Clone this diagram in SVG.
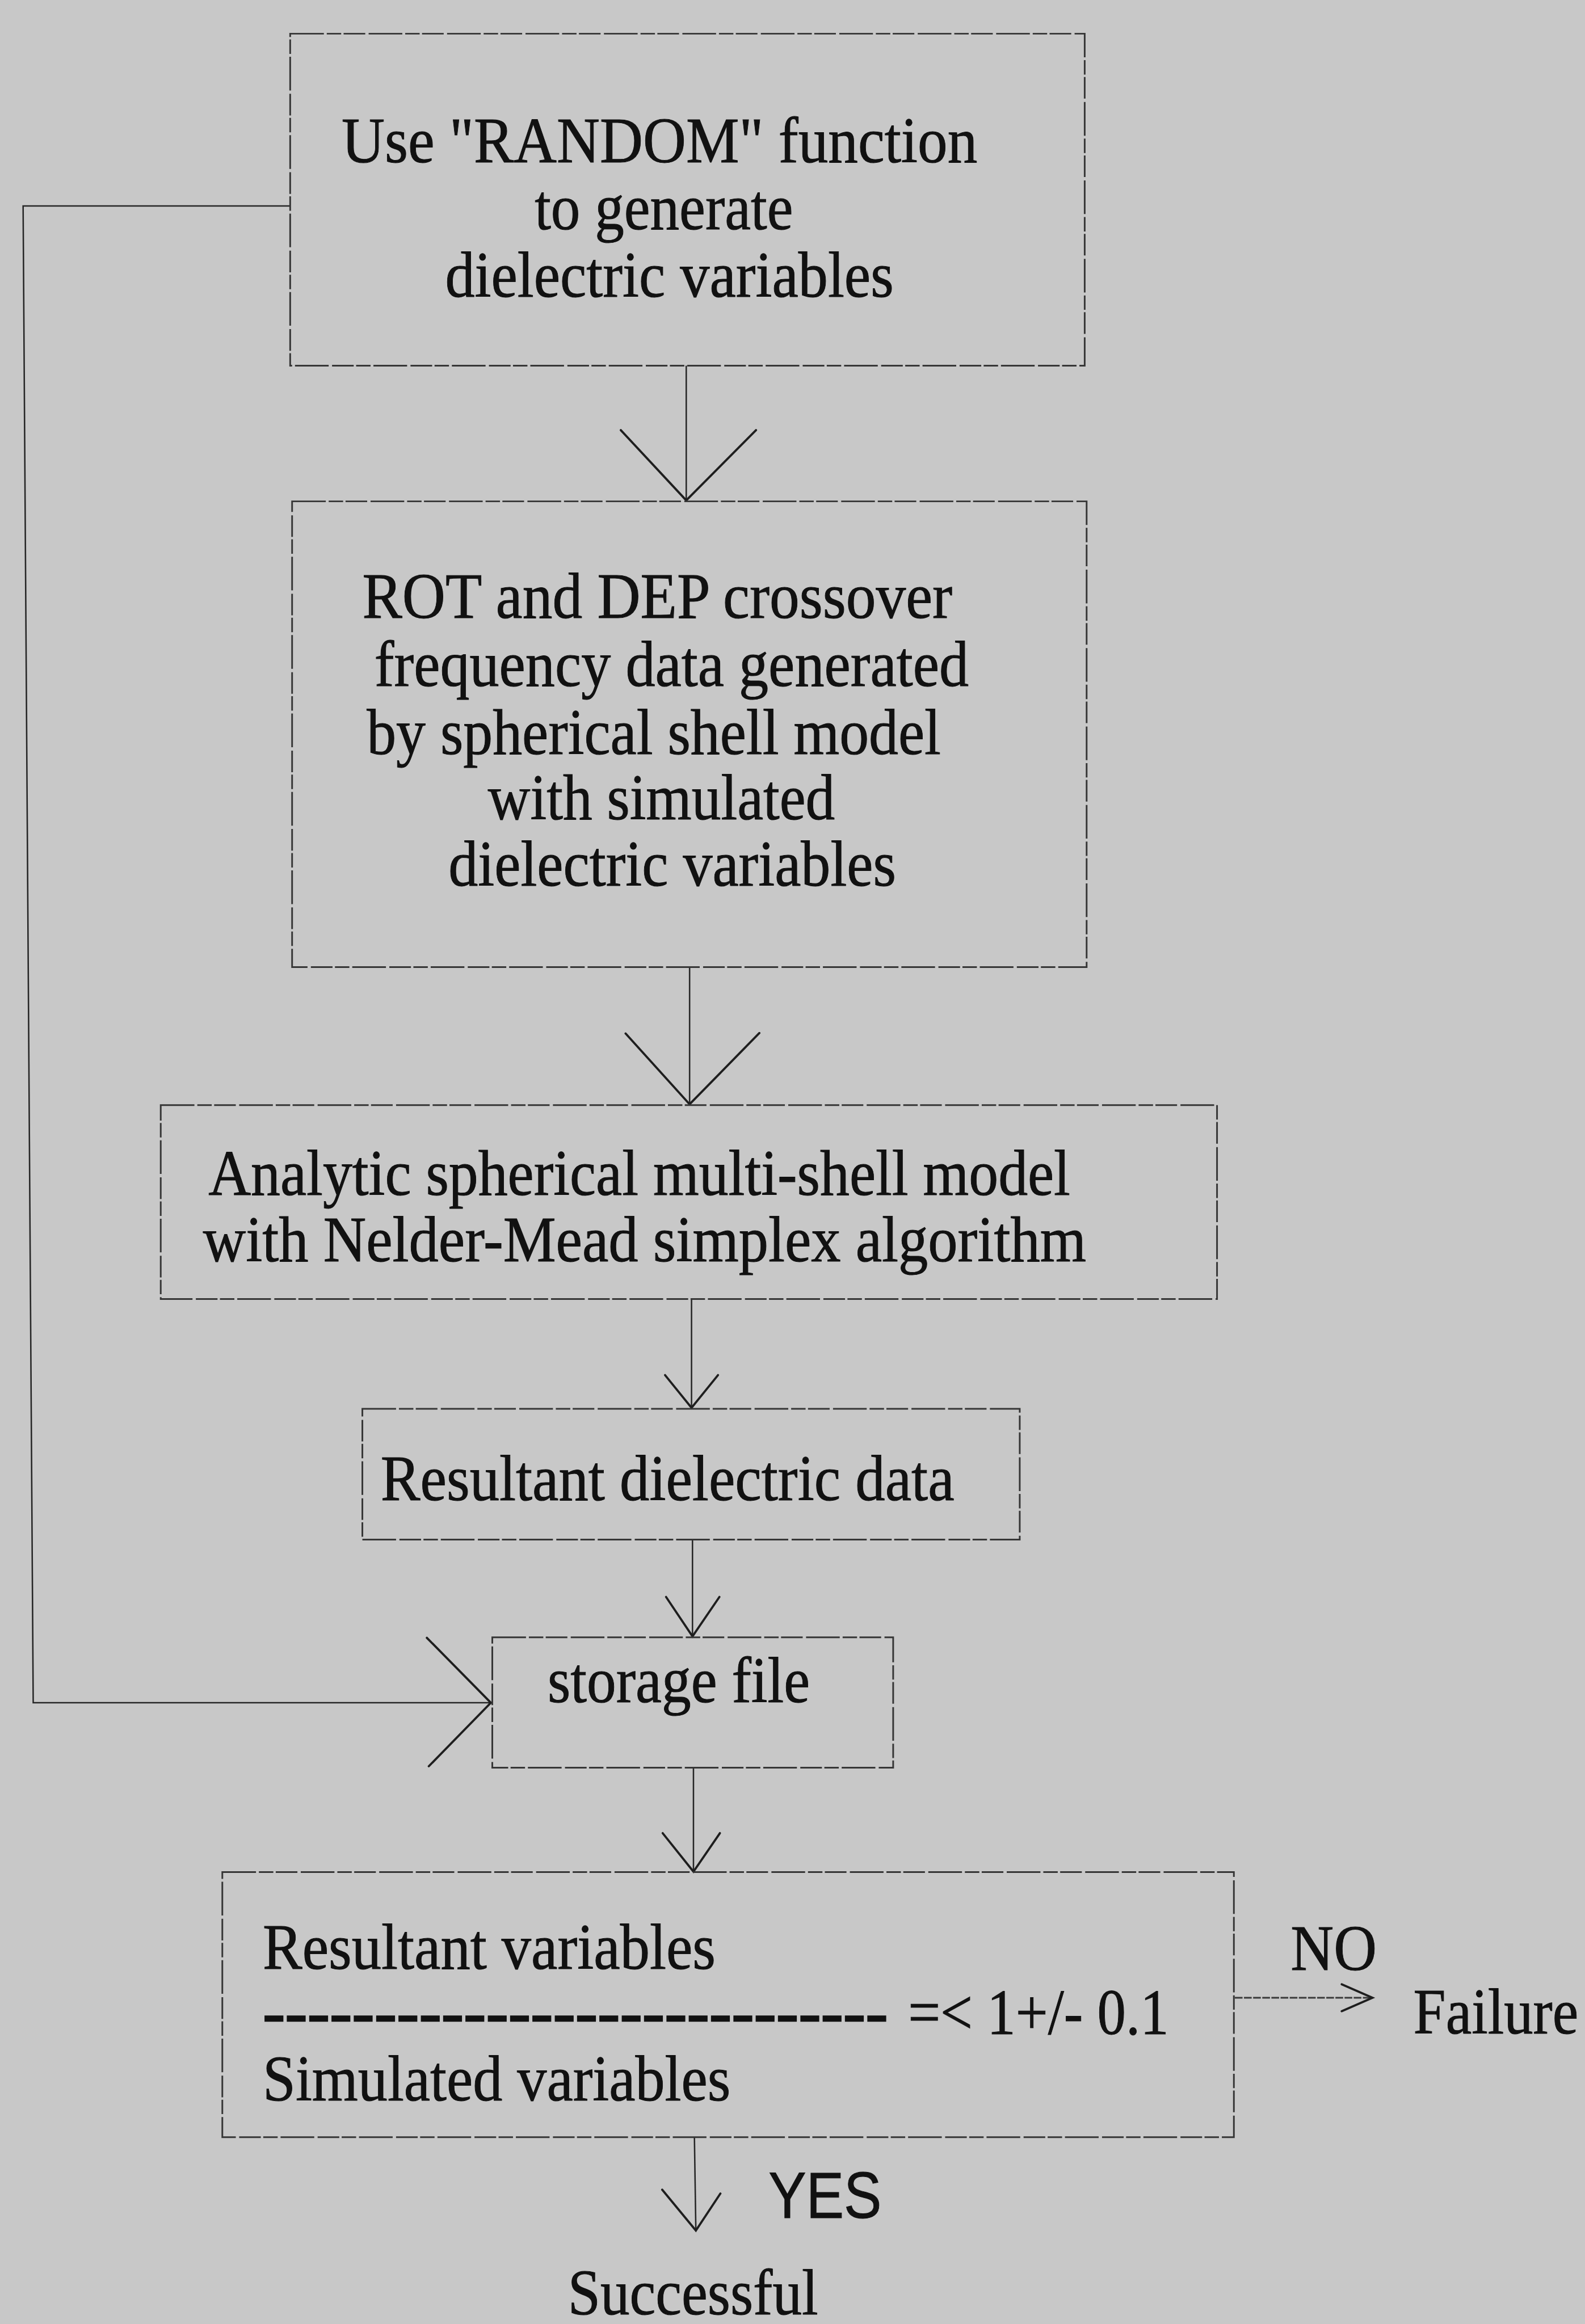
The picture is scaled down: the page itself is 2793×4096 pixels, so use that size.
<svg xmlns="http://www.w3.org/2000/svg" width="2793" height="4096" viewBox="0 0 2793 4096">
  <style>
    .box { fill: none; stroke: #363636; stroke-width: 3.5; stroke-dasharray: 70 6 30 5 45 7; }
    .line { fill: none; stroke: #262626; stroke-width: 3; }
    .dotline { fill: none; stroke: #3a3a3a; stroke-width: 3.5; stroke-dasharray: 16 3; }
    .head { fill: none; stroke: #1e1e1e; stroke-width: 4.5; stroke-linejoin: miter; stroke-linecap: round; }
    .t { font-family: "Liberation Serif", "Times New Roman", serif; font-size: 136px; fill: #111; stroke: #111; stroke-width: 1.2; }
    .s { font-family: "Liberation Sans", Arial, sans-serif; font-size: 135px; fill: #111; stroke: #111; stroke-width: 1.2; }
    .dash { stroke-width: 3; }
  </style>
  <rect x="0" y="0" width="2793" height="4096" fill="#c8c8c8"/>
  <!-- everything below is laid out in 3294 x 4830 units, scaled to the page -->
  <g transform="scale(0.848)">
    <g id="connectors">
      <!-- random generator -> shell model -->
      <path class="line" d="M1426 760 L1426 1040"/>
      <path class="head" d="M1290 894 L1426 1040 L1571 894"/>
      <!-- shell model -> multi-shell fit -->
      <path class="line" d="M1433 2010 L1433 2295"/>
      <path class="head" d="M1300 2148 L1433 2295 L1578 2147"/>
      <!-- multi-shell fit -> resultant data -->
      <path class="line" d="M1437 2700 L1437 2926"/>
      <path class="head" d="M1382 2858 L1437 2926 L1492 2858"/>
      <!-- resultant data -> storage -->
      <path class="line" d="M1439 3200 L1439 3401"/>
      <path class="head" d="M1384 3319 L1439 3401 L1495 3319"/>
      <!-- storage -> comparison -->
      <path class="line" d="M1441 3674 L1441 3890"/>
      <path class="head" d="M1377 3810 L1441 3890 L1496 3810"/>
      <!-- comparison -> successful -->
      <path class="line" d="M1443 4442 L1446 4636"/>
      <path class="head" d="M1376 4551 L1446 4636 L1497 4559"/>
      <!-- comparison -> failure -->
      <path class="dotline" d="M2566 4152 L2850 4152"/>
      <path class="head" d="M2788 4124 L2852 4152 L2788 4180"/>
      <!-- simulated variables fed straight to storage -->
      <path class="line" d="M603 428 L48 428 L69 3539 L1018 3539"/>
      <path class="head" d="M887 3404 L1020 3539 L891 3671"/>
    </g>

    <g id="node-random">
      <rect class="box" x="603" y="70" width="1651" height="690"/>
      <text class="t" x="710" y="337" textLength="1321" lengthAdjust="spacingAndGlyphs">Use "RANDOM" function</text>
      <text class="t" x="1111" y="477" textLength="537" lengthAdjust="spacingAndGlyphs">to generate</text>
      <text class="t" x="925" y="617" textLength="932" lengthAdjust="spacingAndGlyphs">dielectric variables</text>
    </g>

    <g id="node-crossover">
      <rect class="box" x="607" y="1042" width="1651" height="968"/>
      <text class="t" x="753" y="1284" textLength="1226" lengthAdjust="spacingAndGlyphs">ROT and DEP crossover</text>
      <text class="t" x="778" y="1426" textLength="1235" lengthAdjust="spacingAndGlyphs">frequency data generated</text>
      <text class="t" x="762" y="1567" textLength="1193" lengthAdjust="spacingAndGlyphs">by spherical shell model</text>
      <text class="t" x="1014" y="1703" textLength="721" lengthAdjust="spacingAndGlyphs">with simulated</text>
      <text class="t" x="932" y="1841" textLength="930" lengthAdjust="spacingAndGlyphs">dielectric variables</text>
    </g>

    <g id="node-multishell">
      <rect class="box" x="334" y="2297" width="2195" height="403"/>
      <text class="t" x="433" y="2483" textLength="1791" lengthAdjust="spacingAndGlyphs">Analytic spherical multi-shell model</text>
      <text class="t" x="422" y="2622" textLength="1835" lengthAdjust="spacingAndGlyphs">with Nelder-Mead simplex algorithm</text>
    </g>

    <g id="node-resultant">
      <rect class="box" x="753" y="2928" width="1366" height="272"/>
      <text class="t" x="791" y="3118" textLength="1192" lengthAdjust="spacingAndGlyphs">Resultant dielectric data</text>
    </g>

    <g id="node-storage">
      <rect class="box" x="1023" y="3403" width="833" height="271"/>
      <text class="t" x="1138" y="3538" font-size="122" textLength="545" lengthAdjust="spacingAndGlyphs">storage file</text>
    </g>

    <g id="node-compare">
      <rect class="box" x="462" y="3891" width="2102" height="551"/>
      <text class="t" x="546" y="4092" textLength="941" lengthAdjust="spacingAndGlyphs">Resultant variables</text>
      <text class="t dash" x="546" y="4228" textLength="1299" lengthAdjust="spacingAndGlyphs">----------------------------</text>
      <text class="t" x="1887" y="4228" textLength="542" lengthAdjust="spacingAndGlyphs">=&lt; 1+/- 0.1</text>
      <text class="t" x="546" y="4366" textLength="972" lengthAdjust="spacingAndGlyphs">Simulated variables</text>
    </g>

    <g id="node-failure">
      <text class="t" x="2682" y="4094" textLength="179" lengthAdjust="spacingAndGlyphs">NO</text>
      <text class="t" transform="translate(2937 4226) scale(0.89 1)" x="0" y="0">Failure</text>
    </g>

    <g id="node-successful">
      <text class="s" x="1597" y="4610" textLength="235" lengthAdjust="spacingAndGlyphs">YES</text>
      <text class="t" x="1180" y="4810" textLength="520" lengthAdjust="spacingAndGlyphs">Successful</text>
    </g>
  </g>
</svg>
